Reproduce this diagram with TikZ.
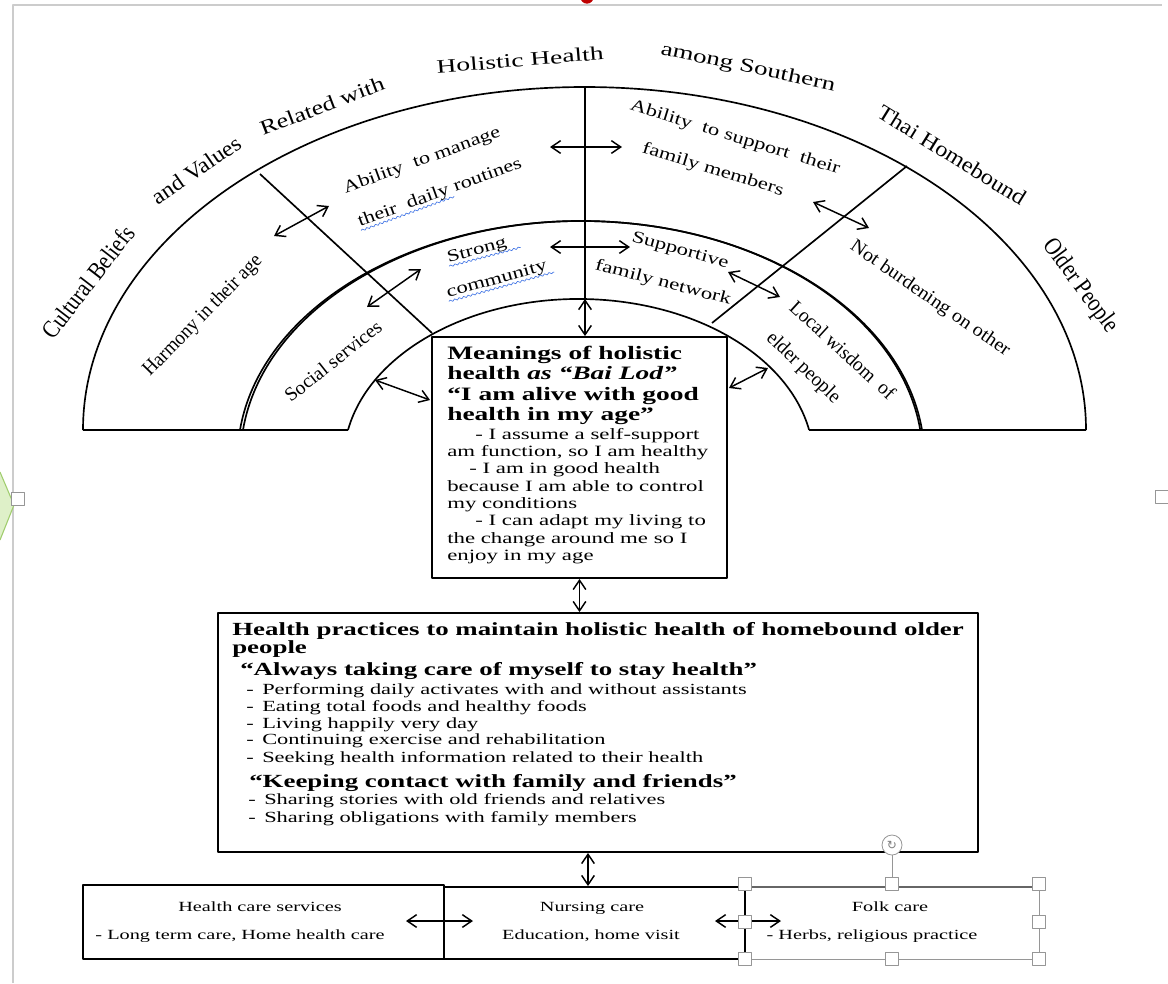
\documentclass[tikz,border=0pt]{standalone}
\usepackage{fontspec}
\setmainfont{Liberation Serif}
\newfontfamily\widefont{Liberation Serif}[FakeStretch=1.45]
\newfontfamily\symfont{DejaVu Sans}
\usetikzlibrary{arrows.meta,decorations.pathmorphing,calc}
\definecolor{squigblue}{RGB}{70,120,230}
\definecolor{selgray}{RGB}{150,150,150}
\definecolor{leafgreen}{RGB}{222,240,200}
\definecolor{leafedge}{RGB}{160,205,110}
% style, name, x, y, angle, xscale, yscale, text
\newcommand\rtxt[8]{\begin{scope}[shift={(#3,#4)}]\node[#1,rotate=#5,xscale=#6,yscale=#7,transform shape] (#2) at (0,0) {#8};\end{scope}}
\newcommand\dsh{\makebox[12pt][l]{-}}
\begin{document}
\begin{tikzpicture}[x=0.75pt,y=-0.75pt,line join=round,
  ln/.style={line width=1.25pt},
  box/.style={draw,line width=1.4pt,fill=white,inner sep=0pt},
  arr/.style={{Straight Barb[length=7pt,width=9.5pt]}-{Straight Barb[length=7pt,width=9.5pt]},line width=1.1pt},
  ttl/.style={inner sep=0pt,font=\fontsize{14.3}{16}\selectfont},
  rng/.style={inner sep=0pt,font=\fontsize{12.2}{14}\selectfont},
  mhd/.style={anchor=base west,inner sep=0pt,font=\widefont\bfseries\fontsize{14.2}{15}\selectfont},
  mbd/.style={anchor=base west,inner sep=0pt,font=\widefont\fontsize{11.8}{13}\selectfont},
  phd/.style={anchor=base west,inner sep=0pt,font=\widefont\bfseries\fontsize{13.9}{15}\selectfont},
  pit/.style={anchor=base west,inner sep=0pt,font=\widefont\fontsize{11.6}{13}\selectfont},
  btx/.style={anchor=base,inner sep=0pt,font=\widefont\fontsize{10.5}{12}\selectfont},
  squig/.style={draw=squigblue,line width=0.5pt,decorate,decoration={snake,amplitude=0.7pt,segment length=3.5pt}},
  hdl/.style={draw=selgray,fill=white,line width=0.6pt,minimum size=9.5pt,inner sep=0pt}]
\useasboundingbox (0,0) rectangle (1168,983);
\fill[white] (0,0) rectangle (1168,983);
% screenshot frame and artifacts
\draw[gray!40,line width=0.8pt] (13,983) -- (13,5) -- (1162,5);
\fill[red!75!black] (587,-3) circle[radius=5pt];
\filldraw[fill=leafgreen,draw=leafedge,line width=0.8pt] (0,472) -- (14,505) -- (0,540);
\node[hdl] (hl) at (18,499) {};
\node[hdl] (hr) at (1162,497) {};
% arcs
\draw[ln] (83,430) arc[start angle=180,end angle=360,x radius=501.5,y radius=343];
\draw[ln] (240,430) arc[start angle=186.74,end angle=353.26,x radius=343.4,y radius=236.8];
\draw[ln] (243,430) arc[start angle=186.74,end angle=353.26,x radius=341,y radius=236.8];
\draw[ln] (348,430) arc[start angle=191.03,end angle=348.97,x radius=234.9,y radius=162];
\draw[ln] (83,430) -- (348,430);
\draw[ln] (809,430) -- (1086,430);
\draw[ln] (260,174) -- (432,333);
\draw[ln] (907,166) -- (712,323);
\draw[ln] (585,87) -- (585,299);
% outer title
\rtxt{ttl}{t1}{88}{282}{52.4}{1.115}{1.300}{Cultural Beliefs}
\rtxt{ttl}{t2}{196}{170}{34.6}{1.2455}{1.164}{and Values}
\rtxt{ttl}{t3}{322}{106}{20.9}{1.3577}{1.068}{Related with}
\rtxt{ttl}{t4}{520}{60}{4.8}{1.4443}{1.004}{Holistic Health}
\rtxt{ttl}{t5}{748}{68}{-11.9}{1.4171}{1.023}{among Southern}
\rtxt{ttl}{t6}{952}{155}{-31.8}{1.2684}{1.143}{Thai Homebound}
\rtxt{ttl}{t7}{1080}{286}{-53.5}{1.1078}{1.309}{Older People}
% ring labels
\rtxt{rng}{r1}{203}{316}{45.6}{1.1596}{1.250}{Harmony in their age}
\rtxt{rng}{r2}{422}{161}{20.1}{1.3636}{1.063}{Ability\ \ to manage}
\rtxt{rng}{r3}{440}{193}{20.1}{1.3636}{1.063}{their\ \ daily routines}
\rtxt{rng}{r4}{735}{138}{-17.1}{1.3856}{1.046}{Ability\ \ to support\ \ their}
\rtxt{rng}{r5}{713}{170}{-17.1}{1.3856}{1.046}{family members}
\rtxt{rng}{r6}{930}{299}{-34.6}{1.2455}{1.164}{Not burdening on other}
\rtxt{rng}{r7}{333}{361}{38.4}{1.2143}{1.194}{Social services}
\rtxt{rng}{r8}{477}{251}{14.8}{1.4003}{1.035}{Strong}
\rtxt{rng}{r9}{497}{280}{15.6}{1.3956}{1.039}{community}
\rtxt{rng}{r10}{680}{251}{-15.6}{1.3956}{1.039}{Supportive}
\rtxt{rng}{r11}{663}{283}{-14.8}{1.4003}{1.035}{family network}
\rtxt{rng}{r12}{843}{350}{-42.5}{1.1829}{1.226}{Local wisdom\ \ of}
\rtxt{rng}{r13}{803}{368}{-43.5}{1.1751}{1.234}{elder people}
\draw[squig] (r3.south west) -- ($(r3.south west)!0.57!(r3.south east)$);
\draw[squig] (r8.south west) -- ($(r8.south west)!1.2!(r8.south east)$);
\draw[squig] (r9.south west) -- ($(r9.south west)!1.05!(r9.south east)$);
% arrows in the rings
\coordinate (a1l) at (550,147); \coordinate (a1r) at (622,147);
\coordinate (a2l) at (550,247); \coordinate (a2r) at (630,247);
\coordinate (a4l) at (274,236); \coordinate (a4r) at (329,206);
\coordinate (a5l) at (367,307); \coordinate (a5r) at (421,269);
\coordinate (a6l) at (375,380); \coordinate (a6r) at (430,400);
\coordinate (a7l) at (813,202); \coordinate (a7r) at (869,228);
\coordinate (a8l) at (728,272); \coordinate (a8r) at (780,297);
\coordinate (a9l) at (729,388); \coordinate (a9r) at (768,368);
\draw[arr] (a1l) -- (a1r);
\draw[arr] (a2l) -- (a2r);
\draw[arr] (a4l) -- (a4r);
\draw[arr] (a5l) -- (a5r);
\draw[arr] (a6l) -- (a6r);
\draw[arr] (a7l) -- (a7r);
\draw[arr] (a8l) -- (a8r);
\draw[arr] (a9l) -- (a9r);
% meaning box
\node[box,minimum width=221.25pt,minimum height=180.75pt] (mbox) at (579.5,457.5) {};
\coordinate (itop) at (585,299);
\draw[arr] (itop) -- (itop |- mbox.north);
\node[mhd] (mh1) at (447,359) {Meanings of holistic};
\node[mhd] (mh2) at (447,379) {health \textit{as “Bai Lod”}};
\node[mhd] (mh3) at (447,400) {“I am alive with good};
\node[mhd] (mh4) at (447,420) {health in my age”};
\node[mbd] (mb1) at (475,439.3) {- I assume a self-support};
\node[mbd] (mb2) at (447,456.6) {am function, so I am healthy};
\node[mbd] (mb3) at (469,473.9) {- I am in good health};
\node[mbd] (mb4) at (447,491.2) {because I am able to control};
\node[mbd] (mb5) at (447,508.5) {my conditions};
\node[mbd] (mb6) at (475,525.8) {- I can adapt my living to};
\node[mbd] (mb7) at (447,543.1) {the change around me so I};
\node[mbd] (mb8) at (447,560.4) {enjoy in my age};
% practices box
\node[box,minimum width=570pt,minimum height=179.25pt] (pbox) at (598,732.5) {};
\draw[arr] (mbox.south) -- (mbox.south |- pbox.north);
\node[phd] (ph1) at (232,635) {Health practices to maintain holistic health of homebound older};
\node[phd] (ph2) at (232,653) {people};
\node[phd] (ph3) at (240,675) {“Always taking care of myself to stay health”};
\node[pit] (pi1) at (246,694) {\dsh Performing daily activates with and without assistants};
\node[pit] (pi2) at (246,711) {\dsh Eating total foods and healthy foods};
\node[pit] (pi3) at (246,728) {\dsh Living happily very day};
\node[pit] (pi4) at (246,744) {\dsh Continuing exercise and rehabilitation};
\node[pit] (pi5) at (246,762) {\dsh Seeking health information related to their health};
\node[phd] (ph4) at (249,787) {“Keeping contact with family and friends”};
\node[pit] (pi6) at (248,804) {\dsh Sharing stories with old friends and relatives};
\node[pit] (pi7) at (248,822) {\dsh Sharing obligations with family members};
% bottom boxes
\node[box,minimum width=270.75pt,minimum height=55.5pt] (hcs) at (263.5,922) {};
\node[draw=selgray,line width=0.6pt,fill=white,minimum width=220.5pt,minimum height=54pt,inner sep=0pt] (folk) at (892,923) {};
\node[box,minimum width=225.75pt,minimum height=54pt] (nur) at (594.5,923) {};
\draw[line width=1.5pt,black!60] (folk.north west) -- (folk.north east);
\coordinate (pc) at (588,870);
\draw[arr] (pbox.south -| pc) -- (nur.north -| pc);
\node[btx] (hc1) at (260,911) {Health care services};
\node[btx] (hc2) at (240,939) {- Long term care, Home health care};
\node[btx] (nc1) at (592,911) {Nursing care};
\node[btx] (nc2) at (591,939) {Education, home visit};
\node[btx] (fc1) at (890,911) {Folk care};
\node[btx] (fc2) at (872,939) {- Herbs, religious practice};
\coordinate (b1l) at (406,921); \coordinate (b1r) at (473,921);
\coordinate (b2l) at (715,921); \coordinate (b2r) at (781,921);
\draw[arr] (b1l) -- (b1r);
\draw[arr] (b2l) -- (b2r);
% selection handles of the folk care box
\node[hdl] (h1) at (745,884) {};
\node[hdl] (h2) at (892,884) {};
\node[hdl] (h3) at (1039,884) {};
\node[hdl] (h4) at (745,922) {};
\node[hdl] (h5) at (1039,922) {};
\node[hdl] (h6) at (745,959) {};
\node[hdl] (h7) at (892,959) {};
\node[hdl] (h8) at (1039,959) {};
\node[circle,draw=selgray,fill=white,line width=0.6pt,minimum size=15pt,inner sep=0pt,text=gray,font=\symfont\fontsize{9}{9}\selectfont] (rot) at (892,845) {↻};
\draw[selgray,line width=0.6pt] (rot.south) -- (h2.north);
\end{tikzpicture}
\end{document}
